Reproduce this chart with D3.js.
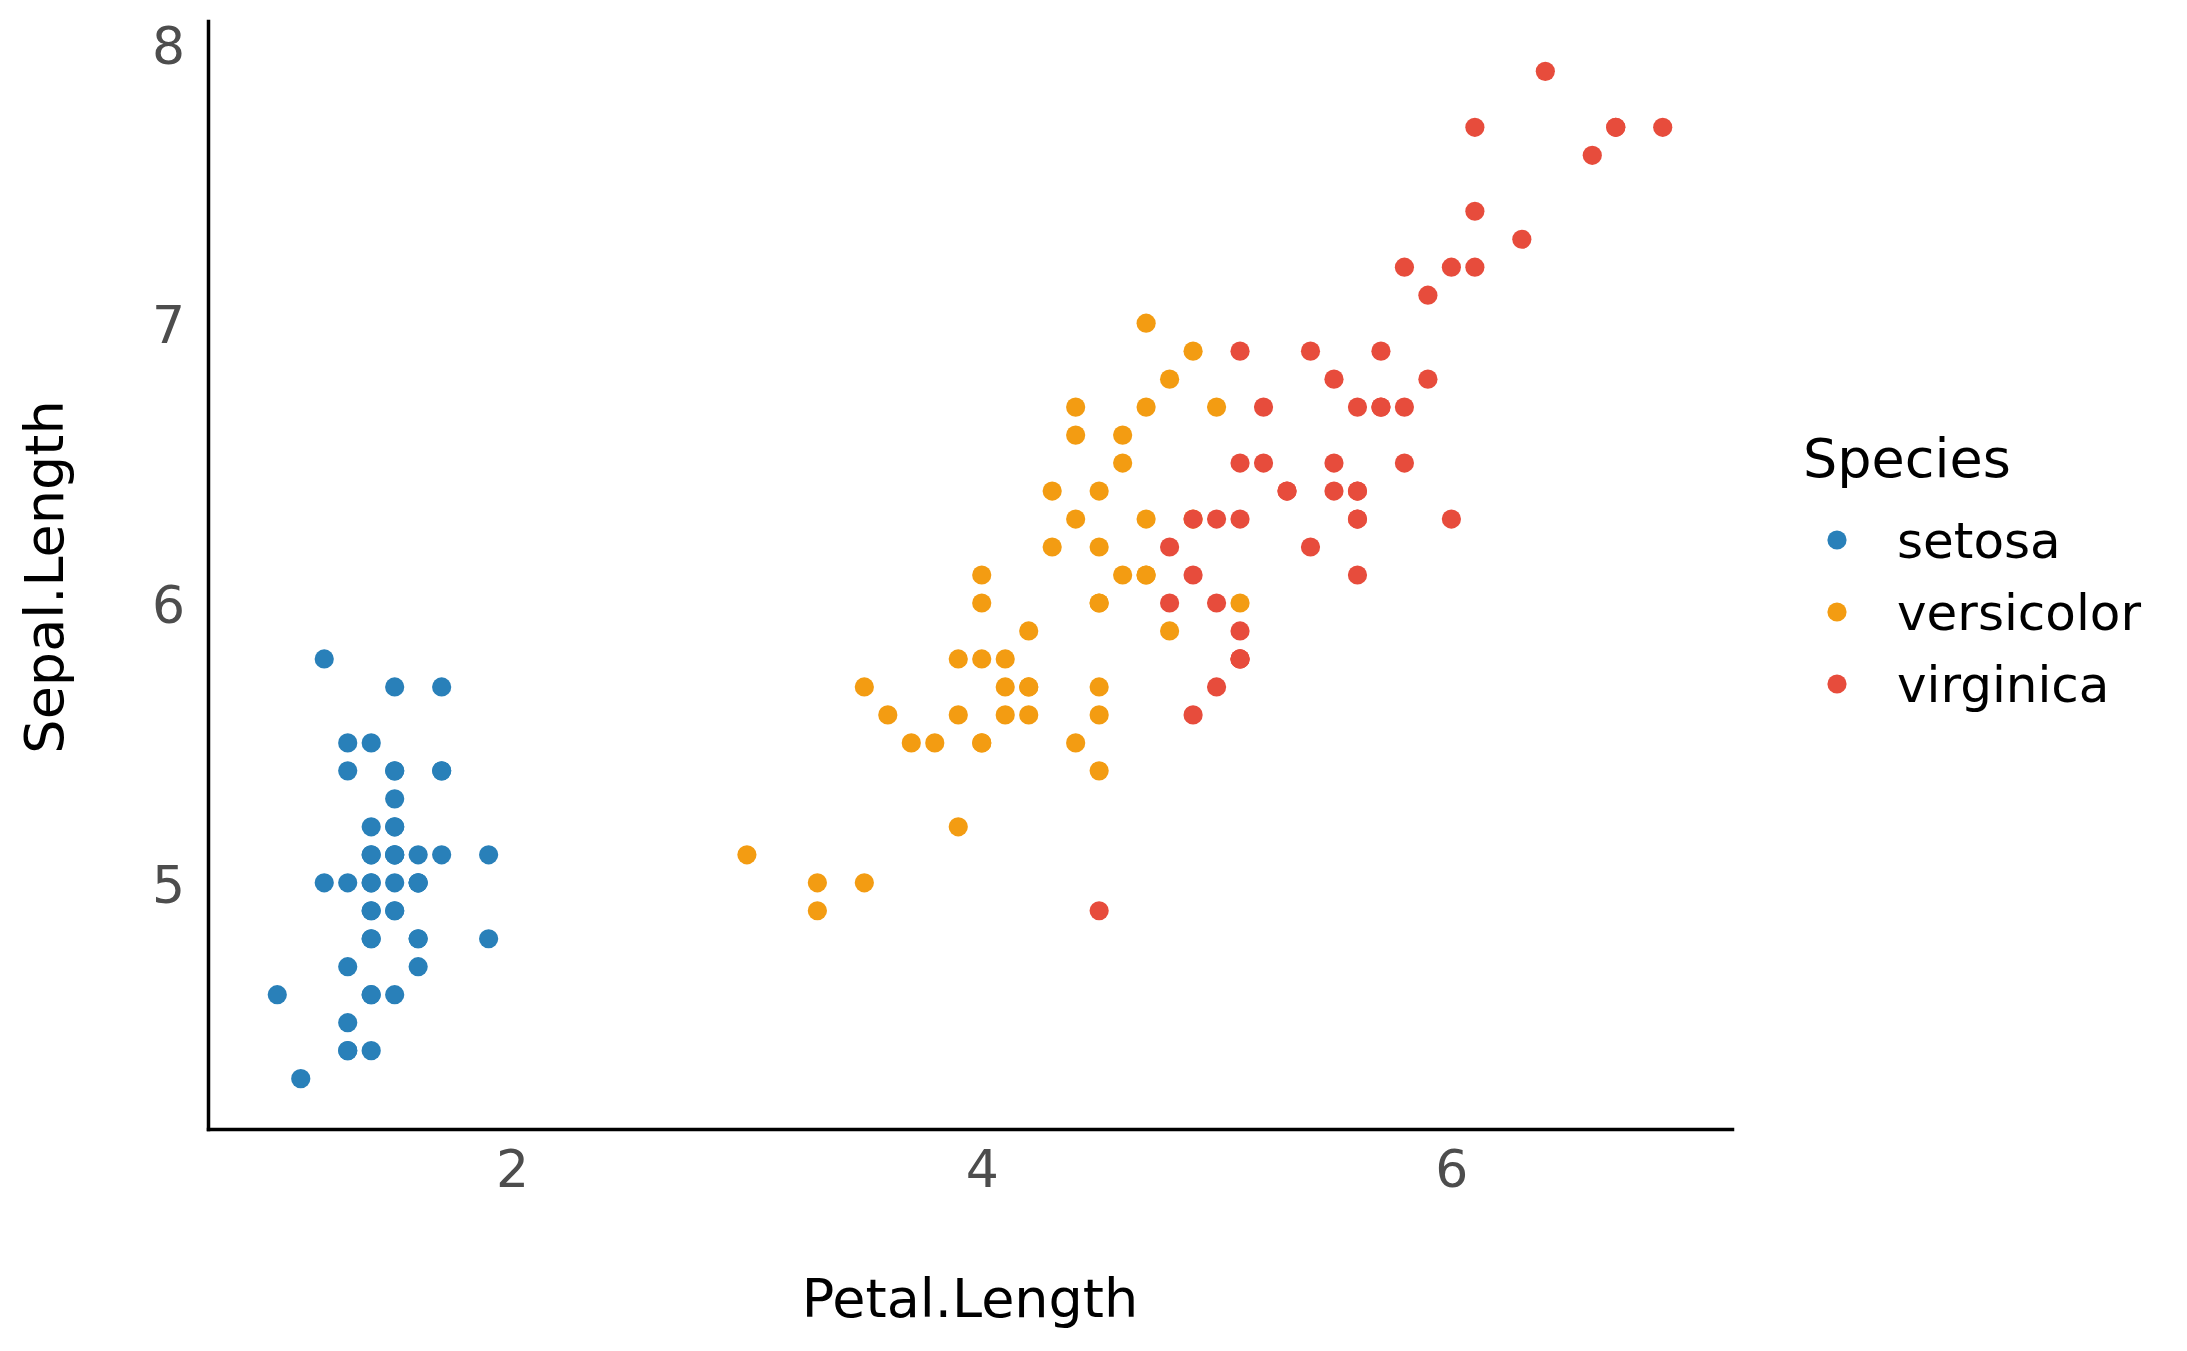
<!DOCTYPE html>
<html>
<head>
<meta charset="utf-8">
<script src="https://cdn.jsdelivr.net/npm/d3@7"></script>
<style>
  body { margin: 0; background: #fff; }
  svg { display: block; font-family: "DejaVu Sans", sans-serif; }
</style>
</head>
<body>
<div id="chart"></div>
<script>
const width = 2187;
const height = 1351;

// iris: Petal.Length / Sepal.Length by species
const species = ["setosa", "versicolor", "virginica"];

const setosaPetal = [1.4,1.4,1.3,1.5,1.4,1.7,1.4,1.5,1.4,1.5,1.5,1.6,1.4,1.1,1.2,1.5,1.3,1.4,1.7,1.5,
  1.7,1.5,1.0,1.7,1.9,1.6,1.6,1.5,1.4,1.6,1.6,1.5,1.5,1.4,1.5,1.2,1.3,1.4,1.3,1.5,1.3,1.3,1.3,1.6,1.9,1.4,1.6,1.4,1.5,1.4];
const setosaSepal = [5.1,4.9,4.7,4.6,5.0,5.4,4.6,5.0,4.4,4.9,5.4,4.8,4.8,4.3,5.8,5.7,5.4,5.1,5.7,5.1,
  5.4,5.1,4.6,5.1,4.8,5.0,5.0,5.2,5.2,4.7,4.8,5.4,5.2,5.5,4.9,5.0,5.5,4.9,4.4,5.1,5.0,4.5,4.4,5.0,5.1,4.8,5.1,4.6,5.3,5.0];

const versicolorPetal = [4.7,4.5,4.9,4.0,4.6,4.5,4.7,3.3,4.6,3.9,3.5,4.2,4.0,4.7,3.6,4.4,4.5,4.1,4.5,3.9,
  4.8,4.0,4.9,4.7,4.3,4.4,4.8,5.0,4.5,3.5,3.8,3.7,3.9,5.1,4.5,4.5,4.7,4.4,4.1,4.0,4.4,4.6,4.0,3.3,4.2,4.2,4.2,4.3,3.0,4.1];
const versicolorSepal = [7.0,6.4,6.9,5.5,6.5,5.7,6.3,4.9,6.6,5.2,5.0,5.9,6.0,6.1,5.6,6.7,5.6,5.8,6.2,5.6,
  5.9,6.1,6.3,6.1,6.4,6.6,6.8,6.7,6.0,5.7,5.5,5.5,5.8,6.0,5.4,6.0,6.7,6.3,5.6,5.5,5.5,6.1,5.8,5.0,5.6,5.7,5.7,6.2,5.1,5.7];

const virginicaPetal = [6.0,5.1,5.9,5.6,5.8,6.6,4.5,6.3,5.8,6.1,5.1,5.3,5.5,5.0,5.1,5.3,5.5,6.7,6.9,5.0,
  5.7,4.9,6.7,4.9,5.7,6.0,4.8,4.9,5.6,5.8,6.1,6.4,5.6,5.1,5.6,6.1,5.6,5.5,4.8,5.4,5.6,5.1,5.1,5.9,5.7,5.2,5.0,5.2,5.4,5.1];
const virginicaSepal = [6.3,5.8,7.1,6.3,6.5,7.6,4.9,7.3,6.7,7.2,6.5,6.4,6.8,5.7,5.8,6.4,6.5,7.7,7.7,6.0,
  6.9,5.6,7.7,6.3,6.7,7.2,6.2,6.1,6.4,7.2,7.4,7.9,6.4,6.3,6.1,7.7,6.3,6.4,6.0,6.9,6.7,6.9,5.8,6.8,6.7,6.7,6.3,6.5,6.2,5.9];

const xTicks = [2, 4, 6];
const yTicks = [5, 6, 7, 8];
const palette = ["#2980b9", "#f39c12", "#e74c3c"];

const points = [
  ...setosaPetal.map((p, i) => ({ species: "setosa", petal: p, sepal: setosaSepal[i] })),
  ...versicolorPetal.map((p, i) => ({ species: "versicolor", petal: p, sepal: versicolorSepal[i] })),
  ...virginicaPetal.map((p, i) => ({ species: "virginica", petal: p, sepal: virginicaSepal[i] }))
];

const panel = { left: 208, right: 1732, top: 21, bottom: 1129 };

// ggplot-style 5% expansion
function expand(ext) {
  const pad = (ext[1] - ext[0]) * 0.05;
  return [ext[0] - pad, ext[1] + pad];
}

const x = d3.scaleLinear()
  .domain(expand(d3.extent(points, d => d.petal)))
  .range([panel.left, panel.right]);

const y = d3.scaleLinear()
  .domain(expand(d3.extent(points, d => d.sepal)))
  .range([panel.bottom, panel.top]);

const color = d3.scaleOrdinal().domain(species).range(palette);

const svg = d3.select("#chart").append("svg")
  .attr("width", width)
  .attr("height", height)
  .attr("viewBox", [0, 0, width, height]);

// axes
const xAxis = svg.append("g")
  .attr("transform", `translate(0,${panel.bottom})`)
  .call(d3.axisBottom(x).tickValues(xTicks).tickSize(0).tickPadding(21).tickFormat(d3.format("d")));

const yAxis = svg.append("g")
  .attr("transform", `translate(${panel.left},0)`)
  .call(d3.axisLeft(y).tickValues(yTicks).tickSize(0).tickPadding(23).tickFormat(d3.format("d")));

[xAxis, yAxis].forEach(ax => {
  ax.attr("font-family", null).attr("font-size", null);
  ax.select(".domain").attr("stroke", "#000").attr("stroke-width", 3.5).attr("stroke-linecap", "square");
  ax.selectAll(".tick text")
    .attr("fill", "#4d4d4d")
    .attr("font-size", "52px");
});
yAxis.selectAll(".tick text").attr("dy", "0.38em");

// points
svg.append("g")
  .selectAll("circle")
  .data(points)
  .join("circle")
  .attr("cx", d => x(d.petal))
  .attr("cy", d => y(d.sepal))
  .attr("r", 9.6)
  .attr("fill", d => color(d.species));

// axis titles
svg.append("text")
  .attr("x", (panel.left + panel.right) / 2)
  .attr("y", 1317)
  .attr("text-anchor", "middle")
  .attr("font-size", "54px")
  .attr("fill", "#000")
  .text("Petal.Length");

svg.append("text")
  .attr("transform", `translate(63,${(panel.top + panel.bottom) / 2 + 2}) rotate(-90)`)
  .attr("text-anchor", "middle")
  .attr("font-size", "54px")
  .attr("fill", "#000")
  .text("Sepal.Length");

// legend
const legend = svg.append("g").attr("class", "legend");

legend.append("text")
  .attr("x", 1803)
  .attr("y", 477)
  .attr("font-size", "54px")
  .attr("fill", "#000")
  .text("Species");

const item = legend.selectAll("g.item")
  .data(species)
  .join("g")
  .attr("class", "item")
  .attr("transform", (d, i) => `translate(0,${540 + i * 72})`);

item.append("circle")
  .attr("cx", 1837)
  .attr("cy", 0)
  .attr("r", 9.6)
  .attr("fill", d => color(d));

item.append("text")
  .attr("x", 1897)
  .attr("y", 18)
  .attr("font-size", "50px")
  .attr("fill", "#000")
  .text(d => d);
</script>
</body>
</html>
